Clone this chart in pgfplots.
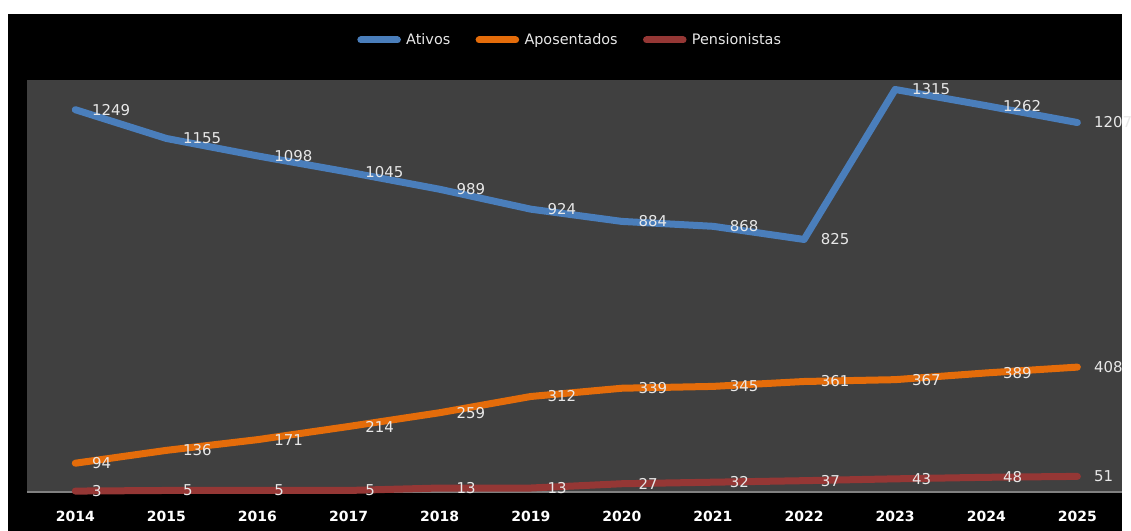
\documentclass[border=0pt]{standalone}
\usepackage{pgfplots}
\pgfplotsset{compat=1.18}
\usepackage{fontspec}
\setmainfont{DejaVu Sans}
\definecolor{cblue}{HTML}{4A7EBB}
\definecolor{corange}{HTML}{E46C0A}
\definecolor{cred}{HTML}{953735}
\definecolor{plotbg}{HTML}{404040}
\definecolor{lbl}{HTML}{E8E8E8}
\begin{document}
\begin{tikzpicture}[x=0.75pt,y=0.75pt]
\clip (0,0) rectangle (1131,531);
\fill[white] (0,0) rectangle (1131,531);
\fill[black] (8,0) rectangle (1122,517);
\begin{axis}[
 at={(20.25pt,29.25pt)}, anchor=south west,
 scale only axis, width=821.25pt, height=309pt,
 xmin=-0.53, xmax=11.49, ymin=0, ymax=1346,
 axis background/.style={fill=plotbg},
 axis x line*=bottom, axis y line=none,
 x axis line style={-, draw=gray, line width=0.8pt},
 xtick={0,1,2,3,4,5,6,7,8,9,10,11},
 xticklabels={2014,2015,2016,2017,2018,2019,2020,2021,2022,2023,2024,2025},
 major tick length=0pt,
 xticklabel style={font=\bfseries\fontsize{10.5}{12}\selectfont, text=white, anchor=base, yshift=-22.5pt},
 nodes near coords={\pgfmathprintnumber[1000 sep={},assume math mode=true]{\pgfplotspointmeta}},
 every node near coord/.append style={anchor=west, xshift=10pt, font=\fontsize{11.2}{13}\selectfont, text=lbl, inner sep=0pt},
 clip=false,
 legend style={at={(0.5,1)}, anchor=center, xshift=-3pt, yshift=30pt, draw=none, fill=none, text=lbl, font=\fontsize{10.8}{12}\selectfont, legend columns=-1, cells={anchor=west}, /tikz/every even column/.append style={column sep=17pt}, /tikz/every odd column/.append style={column sep=2pt}},
 legend image code/.code={\draw[#1, line cap=round] (2.6pt,0pt) -- (30pt,0pt);},
 every axis plot/.append style={line width=5.25pt, line join=round, line cap=round, mark=none},
]
\addplot[cblue] coordinates {(0,1249)(1,1155)(2,1098)(3,1045)(4,989)(5,924)(6,884)(7,868)(8,825)(9,1315)(10,1262)(11,1207)};
\addlegendentry{Ativos}
\addplot[corange] coordinates {(0,94)(1,136)(2,171)(3,214)(4,259)(5,312)(6,339)(7,345)(8,361)(9,367)(10,389)(11,408)};
\addlegendentry{Aposentados}
\addplot[cred] coordinates {(0,3)(1,5)(2,5)(3,5)(4,13)(5,13)(6,27)(7,32)(8,37)(9,43)(10,48)(11,51)};
\addlegendentry{Pensionistas}
\end{axis}
\end{tikzpicture}
\end{document}
